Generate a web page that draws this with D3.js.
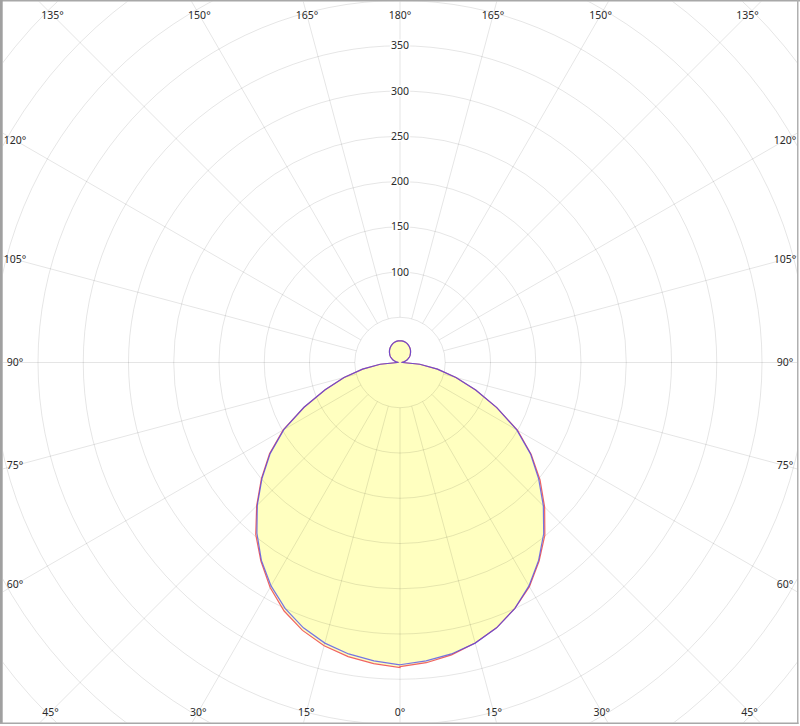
<!DOCTYPE html>
<html>
<head>
<meta charset="utf-8">
<script src="https://cdn.jsdelivr.net/npm/d3@7"></script>
<style>
  html, body { margin: 0; padding: 0; background: #fff; }
  svg { display: block; }
  text { font-family: "Noto Sans", "DejaVu Sans", sans-serif; font-size: 10.5px; fill: #2a2a2a; }
</style>
</head>
<body>
<svg id="chart" width="800" height="726"></svg>
<script>
// Gamma angles (degrees from nadir)
const gamma = [0,5,10,15,20,25,30,35,40,45,50,55,60,65,70,75,80,85,90,
               95,100,105,110,115,120,125,130,135,140,145,150,155,160,165,170,175,180];
// Red plane: C0 (right half) and C180 (left half), cd/klm
const redC0   = [336,333,328,321,312,300,286,268,249,226,202,177,150,118,89,64,42,22,3,
                 2.5,4.2,6.2,8.2,10,12,13.6,15,16.5,18,19.3,20.5,21.5,22.5,23.2,23.7,24,24];
const redC180 = [337,334,330,324,315,303,287,268,248,224,200,176,149,117,88,64,42,22,3,
                 2.5,4.2,6.2,8.2,10,12,13.6,15,16.5,18,19.3,20.5,21.5,22.5,23.2,23.7,24,24];
// Blue plane: C90 (right half) and C270 (left half)
const blueC90  = [334,331,327,321,312,300,285,267,247,224,200,176,149,118,89,64,42,22,3,
                  2.5,4.2,6.2,8.2,10,12,13.6,15,16.5,18,19.3,20.5,21.5,22.5,23.2,23.7,24,24];
const blueC270 = [334,331,327,321,312,300,285,267,246,223,199,175,148,117,88,64,42,22,3,
                  2.5,4.2,6.2,8.2,10,12,13.6,15,16.5,18,19.3,20.5,21.5,22.5,23.2,23.7,24,24];
// Grid
const ringValues = [50,100,150,200,250,300,350,400,450,500,550,600];
const ringLabels = [100,150,200,250,300,350];
const spokeAngles = [0,15,30,45,60,75,90,105,120,135,150,165,180,195,210,225,240,255,270,285,300,315,330,345];

const W = 800, H = 726;
const cx = 400, cy = 362.5;
const r = d3.scaleLinear().domain([0, 400]).range([0, 362]);

const svg = d3.select("#chart");
svg.append("rect").attr("width", W).attr("height", H).attr("fill", "#fff");

const defs = svg.append("defs");
defs.append("clipPath").attr("id", "plotclip")
  .append("rect").attr("x", 3).attr("y", 1.5).attr("width", 794).attr("height", 721);

const plot = svg.append("g").attr("clip-path", "url(#plotclip)");
const g = plot.append("g").attr("transform", `translate(${cx},${cy})`);

// Build closed loop: right half (gamma 0..180), then left half (gamma 180..0)
function buildLoop(right, left) {
  const pts = [];
  gamma.forEach((gm, i) => pts.push({a: Math.PI - gm * Math.PI / 180, v: right[i]}));
  for (let i = gamma.length - 1; i >= 0; i--) {
    pts.push({a: Math.PI + gamma[i] * Math.PI / 180, v: left[i]});
  }
  return pts;
}
const redPts = buildLoop(redC0, redC180);
const bluePts = buildLoop(blueC90, blueC270);

const radial = d3.lineRadial()
  .angle(d => d.a)
  .radius(d => r(d.v))
  .curve(d3.curveLinearClosed);

// Fill
g.append("path").attr("d", radial(redPts)).attr("fill", "#ffffc0").attr("stroke", "none");
g.append("path").attr("d", radial(bluePts)).attr("fill", "#ffffc0").attr("stroke", "none");

// Grid circles
g.selectAll("circle.ring").data(ringValues).enter().append("circle")
  .attr("class", "ring")
  .attr("r", d => r(d))
  .attr("fill", "none")
  .attr("stroke", "#000").attr("stroke-opacity", 0.1).attr("stroke-width", 1);

// Spokes (from first ring outward)
g.selectAll("line.spoke").data(spokeAngles).enter().append("line")
  .attr("class", "spoke")
  .attr("x1", d => r(50) * Math.sin(d * Math.PI / 180))
  .attr("y1", d => r(50) * Math.cos(d * Math.PI / 180))
  .attr("x2", d => r(700) * Math.sin(d * Math.PI / 180))
  .attr("y2", d => r(700) * Math.cos(d * Math.PI / 180))
  .attr("stroke", "#000").attr("stroke-opacity", 0.1).attr("stroke-width", 1);

// Curves
g.append("path").attr("d", radial(redPts))
  .attr("fill", "none").attr("stroke", "#f06464").attr("stroke-width", 1.2);
g.append("path").attr("d", radial(bluePts))
  .attr("fill", "none").attr("stroke", "#4040f0").attr("stroke-opacity", 0.72).attr("stroke-width", 1.2);

// Radial value labels
g.selectAll("text.rl").data(ringLabels).enter().append("text")
  .attr("class", "rl")
  .attr("x", 0)
  .attr("y", d => -r(d))
  .attr("dy", "0.35em")
  .attr("text-anchor", "middle")
  .attr("stroke", "#fff").attr("stroke-width", 3).attr("paint-order", "stroke")
  .text(d => d);

// Angle labels at the inset frame
const box = {x0: 15, x1: 785, y0: 15, y1: 712};
function labelPos(deg) {
  const t = deg * Math.PI / 180;
  const dx = Math.sin(t), dy = Math.cos(t); // 0 deg points down
  let s = Infinity;
  if (dx > 1e-9) s = Math.min(s, (box.x1 - cx) / dx);
  if (dx < -1e-9) s = Math.min(s, (box.x0 - cx) / dx);
  if (dy > 1e-9) s = Math.min(s, (box.y1 - cy) / dy);
  if (dy < -1e-9) s = Math.min(s, (box.y0 - cy) / dy);
  return [cx + s * dx, cy + s * dy];
}
svg.selectAll("text.al").data(spokeAngles).enter().append("text")
  .attr("class", "al")
  .attr("x", d => labelPos(d)[0])
  .attr("y", d => labelPos(d)[1])
  .attr("dy", "0.35em")
  .attr("text-anchor", "middle")
  .text(d => (d <= 180 ? d : 360 - d) + "°");

// Frame
svg.append("rect").attr("x", 0).attr("y", 0).attr("width", 800).attr("height", 1.5).attr("fill", "#a8a8a8");
svg.append("rect").attr("x", 0).attr("y", 0).attr("width", 2.7).attr("height", 724).attr("fill", "#a0a0a0");
svg.append("rect").attr("x", 797).attr("y", 0).attr("width", 1.5).attr("height", 724).attr("fill", "#b0b0b0");
svg.append("rect").attr("x", 0).attr("y", 722.5).attr("width", 798.5).attr("height", 1.5).attr("fill", "#a8a8a8");
</script>
</body>
</html>
